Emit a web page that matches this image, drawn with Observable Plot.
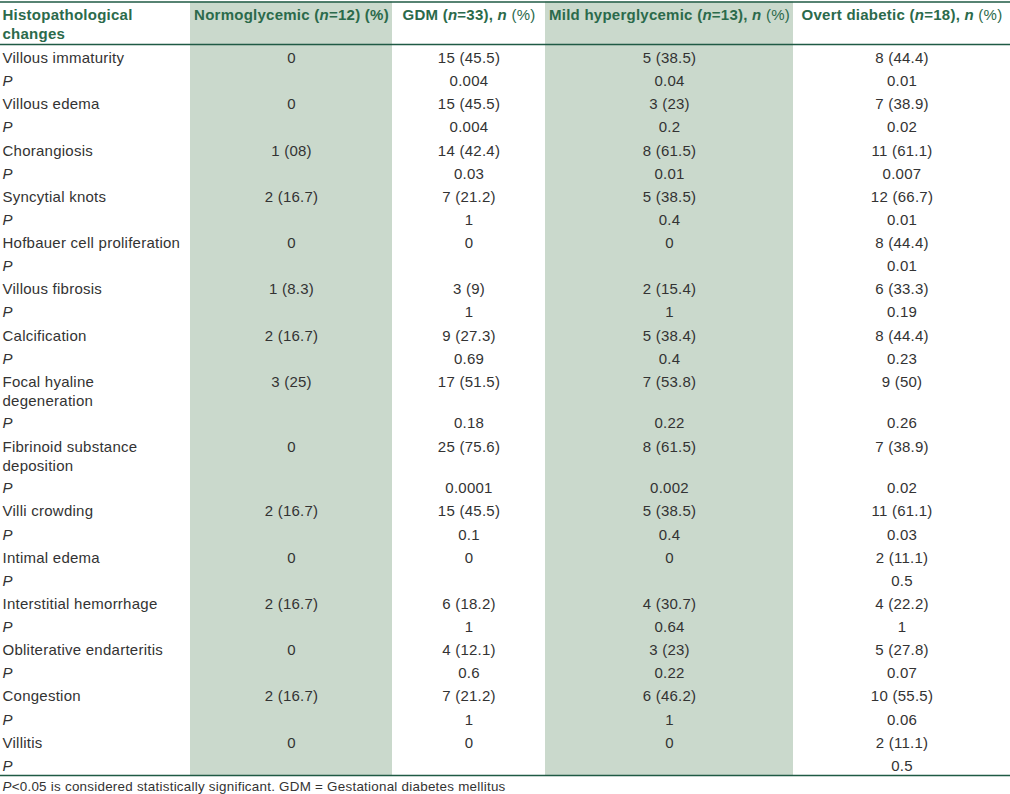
<!DOCTYPE html>
<html><head><meta charset="utf-8">
<script src="https://cdn.jsdelivr.net/npm/d3@7"></script>
<script src="https://cdn.jsdelivr.net/npm/@observablehq/plot@0.6"></script>
<style>body{margin:0;background:#fff}</style>
</head><body><div id="chart"></div>
<script>
// ---- data ----
const headers = ["Histopathological\nchanges", "Normoglycemic (n=12) (%)", "GDM (n=33), n (%)", "Mild hyperglycemic (n=13), n (%)", "Overt diabetic (n=18), n (%)"];
const features = ["Villous immaturity", "Villous edema", "Chorangiosis", "Syncytial knots", "Hofbauer cell proliferation", "Villous fibrosis", "Calcification", "Focal hyaline\ndegeneration", "Fibrinoid substance\ndeposition", "Villi crowding", "Intimal edema", "Interstitial hemorrhage", "Obliterative endarteritis", "Congestion", "Villitis"];
const normoglycemic = ["0", "0", "1 (08)", "2 (16.7)", "0", "1 (8.3)", "2 (16.7)", "3 (25)", "0", "2 (16.7)", "0", "2 (16.7)", "0", "2 (16.7)", "0"];
const normoglycemicP = ["", "", "", "", "", "", "", "", "", "", "", "", "", "", ""];
const gdm = ["15 (45.5)", "15 (45.5)", "14 (42.4)", "7 (21.2)", "0", "3 (9)", "9 (27.3)", "17 (51.5)", "25 (75.6)", "15 (45.5)", "0", "6 (18.2)", "4 (12.1)", "7 (21.2)", "0"];
const gdmP = ["0.004", "0.004", "0.03", "1", "", "1", "0.69", "0.18", "0.0001", "0.1", "", "1", "0.6", "1", ""];
const mild = ["5 (38.5)", "3 (23)", "8 (61.5)", "5 (38.5)", "0", "2 (15.4)", "5 (38.4)", "7 (53.8)", "8 (61.5)", "5 (38.5)", "0", "4 (30.7)", "3 (23)", "6 (46.2)", "0"];
const mildP = ["0.04", "0.2", "0.01", "0.4", "", "1", "0.4", "0.22", "0.002", "0.4", "", "0.64", "0.22", "1", ""];
const overt = ["8 (44.4)", "7 (38.9)", "11 (61.1)", "12 (66.7)", "8 (44.4)", "6 (33.3)", "8 (44.4)", "9 (50)", "7 (38.9)", "11 (61.1)", "2 (11.1)", "4 (22.2)", "5 (27.8)", "10 (55.5)", "2 (11.1)"];
const overtP = ["0.01", "0.02", "0.007", "0.01", "0.01", "0.19", "0.23", "0.26", "0.02", "0.03", "0.5", "1", "0.07", "0.06", "0.5"];
const pLabel = "P";
const footnote = "P<0.05 is considered statistically significant. GDM = Gestational diabetes mellitus";

// ---- layout (not data) ----
const W = 1010, H = 794;
const colEdges = [0, 190, 392, 545, 793, 1010];
const shadedCols = [1, 3];
const TOP = 45.5, ROW = 23.13, TWO_LINE = 1.8;
const LINE_TOP = 1.5, HEAD_LINE = 44, BOTTOM_LINE = 775;
const green = "#2b6a4b", rule = "#1f5a44", shade = "#cad9cc", ink = "#333";
const colX = (c) => c === 0 ? colEdges[0] + 2 : (colEdges[c] + colEdges[c + 1]) / 2;

// build table rows
const valueCols = [normoglycemic, gdm, mild, overt];
const pCols = [normoglycemicP, gdmP, mildP, overtP];
const cells = [];
let u = 0;
features.forEach((f, i) => {
  const lines = f.split("\n").length;
  const y = TOP + u * ROW + 3.5;
  cells.push({col: 0, y, text: f});
  valueCols.forEach((arr, k) => cells.push({col: k + 1, y, text: arr[i]}));
  u += lines > 1 ? TWO_LINE : 1;
  const yp = TOP + u * ROW + 3.5;
  cells.push({col: 0, y: yp, text: pLabel});
  pCols.forEach((arr, k) => cells.push({col: k + 1, y: yp, text: arr[i]}));
  u += 1;
});
const headCells = headers.map((h, c) => ({col: c, y: 6.5, text: h}));
const bodyCells = cells.filter((d) => d.text !== "");

const headStyle = {x: (d) => colX(d.col), y: "y", text: "text", lineAnchor: "top", lineHeight: 1.24, fontSize: 15, fontWeight: "bold", fill: green};
const bodyStyle = {x: (d) => colX(d.col), y: "y", text: "text", lineAnchor: "top", lineHeight: 1.27, fontSize: 15, fill: ink};

const chart = Plot.plot({
  width: W, height: H,
  margin: 0,
  x: {type: "linear", domain: [0, W], range: [0, W], axis: null},
  y: {type: "linear", domain: [0, H], range: [0, H], axis: null},
  style: {fontFamily: "'Liberation Sans', Arial, sans-serif", letterSpacing: "0.25px", background: "#fff", overflow: "visible"},
  marks: [
    Plot.rect(shadedCols, {x1: (c) => colEdges[c], x2: (c) => colEdges[c + 1], y1: LINE_TOP, y2: BOTTOM_LINE, fill: shade}),
    Plot.ruleY([LINE_TOP, HEAD_LINE, BOTTOM_LINE], {stroke: rule, strokeWidth: 1.6}),
    Plot.text(headCells.filter((d) => d.col === 0), {...headStyle, textAnchor: "start"}),
    Plot.text(headCells.filter((d) => d.col !== 0), {...headStyle, textAnchor: "middle"}),
    Plot.text(bodyCells.filter((d) => d.col === 0), {...bodyStyle, textAnchor: "start"}),
    Plot.text(bodyCells.filter((d) => d.col !== 0), {...bodyStyle, textAnchor: "middle"}),
    Plot.text([footnote], {
      x: 2, y: 781, text: (d) => d, textAnchor: "start",
      lineAnchor: "top", fontSize: 13.4, fill: ink
    })
  ]
});

// italicize standalone "n" and "P" tokens; "(%)" after ", n" in regular weight
function styleRuns(node) {
  const s = node.textContent;
  const re = /\b[nP]\b|(?<=n )\(%\)/g;
  if (!re.test(s)) return;
  re.lastIndex = 0;
  const parts = [];
  let last = 0, m;
  while ((m = re.exec(s))) {
    if (m.index > last) parts.push([s.slice(last, m.index), null]);
    parts.push([m[0], m[0] === "(%)" ? "normal" : "italic"]);
    last = m.index + m[0].length;
  }
  if (last < s.length) parts.push([s.slice(last), null]);
  while (node.firstChild) node.removeChild(node.firstChild);
  for (const [t, kind] of parts) {
    const ts = document.createElementNS("http://www.w3.org/2000/svg", "tspan");
    if (kind === "italic") ts.setAttribute("font-style", "italic");
    if (kind === "normal") ts.setAttribute("font-weight", "normal");
    ts.textContent = t;
    node.appendChild(ts);
  }
}
chart.querySelectorAll("text").forEach((t) => {
  const spans = t.querySelectorAll("tspan");
  if (spans.length) spans.forEach(styleRuns); else styleRuns(t);
});

document.getElementById("chart").appendChild(chart);
</script></body></html>
